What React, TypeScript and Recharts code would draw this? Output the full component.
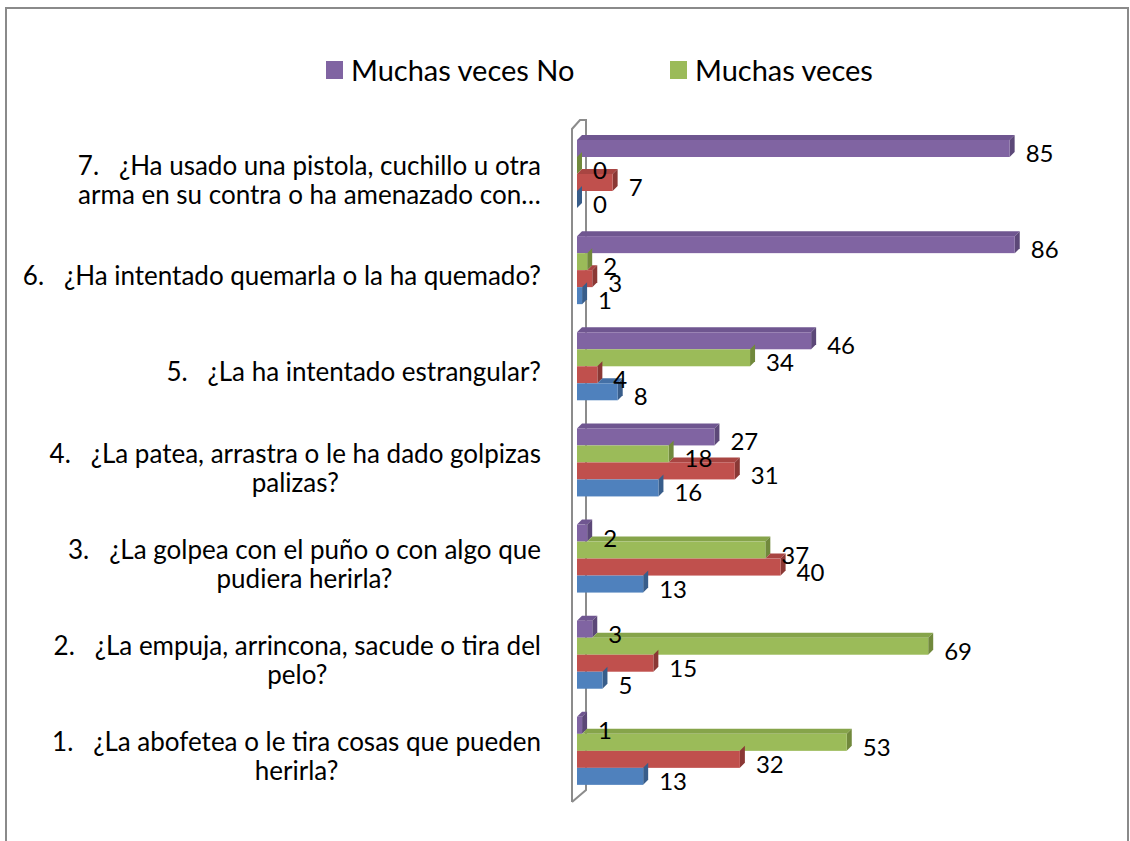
import { BarChart, Bar, XAxis, YAxis, LabelList, ReferenceArea } from 'recharts';

// Valores (de arriba a abajo: pregunta 7 → 1)
const PREGUNTAS = [
  '7.   ¿Ha usado una pistola, cuchillo u otra\narma en su contra o ha amenazado con…',
  '6.   ¿Ha intentado quemarla o la ha quemado?',
  '5.   ¿La ha intentado estrangular?',
  '4.   ¿La patea, arrastra o le ha dado golpizas\npalizas?',
  '3.   ¿La golpea con el puño o con algo que\npudiera herirla?',
  '2.   ¿La empuja, arrincona, sacude o tira del\npelo?',
  '1.   ¿La abofetea o le tira cosas que pueden\nherirla?',
];
const MUCHAS_VECES_NO = [85, 86, 46, 27, 2, 3, 1];
const MUCHAS_VECES = [0, 2, 34, 18, 37, 69, 53];
const SERIE_ROJA = [7, 3, 4, 31, 40, 15, 32];
const SERIE_AZUL = [0, 1, 8, 16, 13, 5, 13];

const data = PREGUNTAS.map((label, i) => ({
  label,
  no: MUCHAS_VECES_NO[i],
  muchas: MUCHAS_VECES[i],
  roja: SERIE_ROJA[i],
  azul: SERIE_AZUL[i],
}));

const FONT = 'Lato, "Open Sans", sans-serif';
const TICK_SIZE = 26;
const VALUE_SIZE = 24;
const DEPTH = 5;

// colores: frente, cara superior, cara lateral
const SERIES = [
  { key: 'no', name: 'Muchas veces No', front: '#8064A2', top: '#6f5690', side: '#5c4878', legend: true },
  { key: 'muchas', name: 'Muchas veces', front: '#9BBB59', top: '#86a44a', side: '#71893c', legend: true },
  { key: 'roja', name: '', front: '#C0504D', top: '#a84542', side: '#8a3835', legend: false },
  { key: 'azul', name: '', front: '#4F81BD', top: '#4470a6', side: '#385d8a', legend: false },
];

let measureCtx: CanvasRenderingContext2D | null = null;
function textWidth(s: string) {
  if (!measureCtx) measureCtx = document.createElement('canvas').getContext('2d');
  if (!measureCtx) return s.length * TICK_SIZE * 0.5;
  measureCtx.font = `${TICK_SIZE}px Lato`;
  return measureCtx.measureText(s).width;
}

// barra con efecto 3D; la cara superior se recorta donde la tapa la barra de encima
function make3D(idx: number) {
  const s = SERIES[idx];
  const above = idx > 0 ? SERIES[idx - 1].key : null;
  return (props: any) => {
    const { x, y, width, height, payload } = props;
    const w = Math.max(0, width || 0);
    const v = payload[s.key];
    let topStart = x;
    if (above && v > 0) topStart = Math.min(x + w, x + (w * payload[above]) / v);
    if (above && v === 0) topStart = x + w;
    return (
      <g>
        {topStart < x + w && (
          <polygon
            points={`${topStart},${y} ${x + w},${y} ${x + w + DEPTH},${y - DEPTH} ${topStart + DEPTH},${y - DEPTH}`}
            fill={s.top}
          />
        )}
        <polygon
          points={`${x + w},${y} ${x + w + DEPTH},${y - DEPTH} ${x + w + DEPTH},${y + height - DEPTH} ${x + w},${y + height}`}
          fill={s.side}
        />
        {w > 0 && <rect x={x} y={y} width={w} height={height} fill={s.front} />}
      </g>
    );
  };
}

function ValueLabel(props: any) {
  const { x, y, width, height, value } = props;
  return (
    <text
      x={x + (width || 0) + 16}
      y={y + height / 2 + 4}
      fontSize={VALUE_SIZE}
      fontFamily={FONT}
      fill="#000"
      dominantBaseline="central"
    >
      {value}
    </text>
  );
}

function PreguntaTick(props: any) {
  const { x, y, payload } = props;
  const lines = String(payload.value).split('\n');
  const right = x - 36;
  const lh = 29;
  const y0 = y + 5 - ((lines.length - 1) * lh) / 2;
  const center = right - textWidth(lines[0]) / 2;
  return (
    <g>
      {lines.map((ln, i) => (
        <text
          key={i}
          x={i === 0 ? right : center}
          y={y0 + i * lh}
          textAnchor={i === 0 ? 'end' : 'middle'}
          dominantBaseline="central"
          fontSize={TICK_SIZE}
          fontFamily={FONT}
          fill="#000"
          xmlSpace="preserve"
          style={{ whiteSpace: 'pre' }}
        >
          {ln}
        </text>
      ))}
    </g>
  );
}

function Pared(props: any) {
  const { x, y, height } = props;
  const b = y + height;
  const pts = [
    [x - 5, b + 3],
    [x - 5, y + 3],
    [x + 3, y - 6],
    [x + 9, y - 6],
    [x + 9, b - 9],
    [x - 5, b + 3],
  ]
    .map((p) => p.join(','))
    .join(' ');
  return <polyline points={pts} fill="none" stroke="#8c8c8c" strokeWidth={2} />;
}

export default function App() {
  return (
    <div style={{ position: 'absolute', left: 0, top: 0, width: 1130, height: 841, background: '#fff', overflow: 'hidden', fontFamily: FONT }}>
      <div style={{ position: 'absolute', left: 5, top: 7, width: 1120, height: 900, border: '2px solid #8a8a8a' }} />
      <div style={{ position: 'absolute', left: 326, top: 51, display: 'flex', alignItems: 'center' }}>
        {SERIES.filter((s) => s.legend).map((s, i) => (
          <div key={s.key} style={{ display: 'flex', alignItems: 'center', width: i === 0 ? 344 : undefined }}>
            <span style={{ width: 17, height: 18, background: s.front, display: 'inline-block', marginRight: 8 }} />
            <span style={{ fontSize: 29, color: '#000', lineHeight: '38px' }}>{s.name}</span>
          </div>
        ))}
      </div>
      <div style={{ position: 'absolute', left: 0, top: 0 }}>
        <BarChart
          width={1130}
          height={841}
          data={data}
          layout="vertical"
          margin={{ top: 126, right: 44, bottom: 42, left: 0 }}
          barSize={17}
          barGap={0}
        >
          <XAxis type="number" domain={[0, 100]} hide />
          <YAxis
            type="category"
            dataKey="label"
            width={577}
            interval={0}
            tickLine={false}
            axisLine={false}
            tickSize={0}
            tickMargin={0}
            tick={<PreguntaTick />}
          />
          <ReferenceArea x1={0} x2={1} shape={<Pared />} />
          {SERIES.map((s, i) => (
            <Bar key={s.key} dataKey={s.key} name={s.name} fill={s.front} shape={make3D(i)} isAnimationActive={false}>
              <LabelList dataKey={s.key} content={<ValueLabel />} />
            </Bar>
          ))}
        </BarChart>
      </div>
    </div>
  );
}
